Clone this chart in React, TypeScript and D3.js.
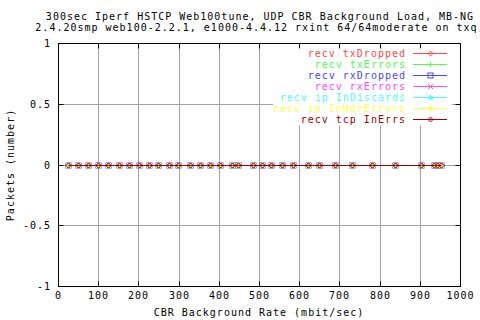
import React from "react";
import * as d3 from "d3";

const titleLines = [
  "300sec Iperf HSTCP Web100tune, UDP CBR Background Load, MB-NG",
  "2.4.20smp web100-2.2.1, e1000-4.4.12 rxint 64/64moderate on txq,",
];
const xLabel = "CBR Background Rate (mbit/sec)";
const yLabel = "Packets (number)";

const xTicks = [0, 100, 200, 300, 400, 500, 600, 700, 800, 900, 1000];
const yTicks = [-1, -0.5, 0, 0.5, 1];
const yTickLabels = ["-1", "-0.5", "0", "0.5", "1"];

const rate = [25, 50, 75, 100, 125, 151, 177, 202, 226, 249, 276, 299, 328, 353, 378, 403, 433, 448, 485, 507, 530, 557, 584, 622, 649, 689, 731, 781, 838, 903, 935, 944, 952];

const txDropped = [0,0,0,0,0,0,0,0,0,0,0,0,0,0,0,0,0,0,0,0,0,0,0,0,0,0,0,0,0,0,0,0,0];
const txErrors = [0,0,0,0,0,0,0,0,0,0,0,0,0,0,0,0,0,0,0,0,0,0,0,0,0,0,0,0,0,0,0,0,0];
const rxDropped = [0,0,0,0,0,0,0,0,0,0,0,0,0,0,0,0,0,0,0,0,0,0,0,0,0,0,0,0,0,0,0,0,0];
const rxErrors = [0,0,0,0,0,0,0,0,0,0,0,0,0,0,0,0,0,0,0,0,0,0,0,0,0,0,0,0,0,0,0,0,0];
const ipInDiscards = [0,0,0,0,0,0,0,0,0,0,0,0,0,0,0,0,0,0,0,0,0,0,0,0,0,0,0,0,0,0,0,0,0];
const ipInHdrErrors = [0,0,0,0,0,0,0,0,0,0,0,0,0,0,0,0,0,0,0,0,0,0,0,0,0,0,0,0,0,0,0,0,0];
const tcpInErrs = [0,0,0,0,0,0,0,0,0,0,0,0,0,0,0,0,0,0,0,0,0,0,0,0,0,0,0,0,0,0,0,0,0];

const seriesNames = ["recv txDropped", "recv txErrors", "recv rxDropped", "recv rxErrors", "recv ip InDiscards", "recv ip InHdrErrors", "recv tcp InErrs"];
const seriesValues = [txDropped, txErrors, rxDropped, rxErrors, ipInDiscards, ipInHdrErrors, tcpInErrs];
const seriesColors = ["#ff4848", "#48ff48", "#4848ff", "#ff48ff", "#48ffff", "#ffff48", "#a00000"];
const seriesMarkers = ["diamond", "plus", "box", "cross", "triangle", "star", "diamond"];

const FONT = "'DejaVu Sans Mono', monospace";

function Marker({ type, x, y, color }: { type: string; x: number; y: number; color: string }) {
  const s = 2.5;
  switch (type) {
    case "diamond":
      return <path d={`M${x - s},${y}L${x},${y - s}L${x + s},${y}L${x},${y + s}Z`} fill="none" stroke={color} strokeWidth={1} />;
    case "plus":
      return <path d={`M${x - s},${y}H${x + s}M${x},${y - s}V${y + s}`} stroke={color} strokeWidth={1} />;
    case "box":
      return <rect x={x - s} y={y - s} width={2 * s} height={2 * s} fill="none" stroke={color} strokeWidth={1} />;
    case "cross":
      return <path d={`M${x - s},${y - s}L${x + s},${y + s}M${x - s},${y + s}L${x + s},${y - s}`} stroke={color} strokeWidth={1} />;
    case "triangle":
      return <path d={`M${x - s},${y + s - 1}L${x},${y - s}L${x + s},${y + s - 1}Z`} fill={color} stroke={color} strokeWidth={1} />;
    case "star":
      return <path d={`M${x - s},${y}H${x + s}M${x},${y - s}V${y + s}M${x - s},${y - s}L${x + s},${y + s}M${x - s},${y + s}L${x + s},${y - s}`} stroke={color} strokeWidth={1} />;
    default:
      return null;
  }
}

export default function App() {
  const W = 480, H = 320;
  const left = 58.5, right = 460.5, top = 43.5, bottom = 286.5;
  const x = d3.scaleLinear().domain([0, 1000]).range([left, right]);
  const y = d3.scaleLinear().domain([-1, 1]).range([bottom, top]);
  const tickLen = 5;
  const gridColor = "#a0a0a0";
  const snap = (v: number) => Math.round(v - 0.5) + 0.5;

  const line = d3.line<number>().x((_, i) => snap(x(rate[i]))).y((v) => snap(y(v)));

  const legendTextRight = 406;
  const legendLineX1 = 413, legendLineX2 = 447;
  const legendY0 = 53.5, legendDy = 11;

  const textStyle: React.CSSProperties = { fontFamily: FONT, fontSize: 10, letterSpacing: 1 };

  return (
    <svg width={W} height={H} style={{ position: "absolute", left: 0, top: 0, background: "#fff" }}>
      <rect x={0} y={0} width={W} height={H} fill="#fff" />
      {xTicks.filter((t) => t > 0 && t < 1000).map((t) => (
        <line key={"gx" + t} x1={snap(x(t))} x2={snap(x(t))} y1={top} y2={bottom} stroke={gridColor} />
      ))}
      {yTicks.filter((t) => t > -1 && t < 1).map((t) => (
        <line key={"gy" + t} x1={left} x2={right} y1={snap(y(t))} y2={snap(y(t))} stroke={gridColor} />
      ))}
      {xTicks.map((t) => {
        const px = snap(x(t));
        return (
          <g key={"tx" + t}>
            <line x1={px} x2={px} y1={bottom} y2={bottom - tickLen} stroke="#000" />
            <line x1={px} x2={px} y1={top} y2={top + tickLen} stroke="#000" />
            <text x={px} y={298.5} textAnchor="middle" style={textStyle}>{String(t)}</text>
          </g>
        );
      })}
      {yTicks.map((t, i) => {
        const py = snap(y(t));
        return (
          <g key={"ty" + t}>
            <line x1={left} x2={left + tickLen} y1={py} y2={py} stroke="#000" />
            <line x1={right} x2={right - tickLen} y1={py} y2={py} stroke="#000" />
            <text x={51} y={py} dy="0.35em" textAnchor="end" style={textStyle}>{yTickLabels[i]}</text>
          </g>
        );
      })}
      <rect x={273} y={48.5} width={179} height={77} fill="#fff" />
      {seriesValues.map((vals, si) => (
        <g key={"s" + si}>
          <path d={line(vals) || ""} fill="none" stroke={seriesColors[si]} strokeWidth={1} />
          {vals.map((v, i) => (
            <Marker key={i} type={seriesMarkers[si]} x={snap(x(rate[i]))} y={snap(y(v))} color={seriesColors[si]} />
          ))}
        </g>
      ))}
      {seriesNames.map((name, i) => {
        const ly = legendY0 + i * legendDy;
        return (
          <g key={"l" + i}>
            <text x={legendTextRight} y={ly} dy="0.35em" textAnchor="end" fill={seriesColors[i]} style={textStyle}>{name}</text>
            <line x1={legendLineX1} x2={legendLineX2} y1={ly} y2={ly} stroke={seriesColors[i]} />
            <Marker type={seriesMarkers[i]} x={(legendLineX1 + legendLineX2) / 2 + 0.5} y={ly} color={seriesColors[i]} />
          </g>
        );
      })}
      <rect x={left} y={top} width={right - left} height={bottom - top} fill="none" stroke="#000" />
      {titleLines.map((t, i) => (
        <text key={"t" + i} x={260} y={19.5 + i * 11} textAnchor="middle" style={textStyle}>{t}</text>
      ))}
      <text x={259} y={316} textAnchor="middle" style={textStyle}>{xLabel}</text>
      <text transform={`translate(14,165) rotate(-90)`} textAnchor="middle" style={textStyle}>{yLabel}</text>
    </svg>
  );
}
